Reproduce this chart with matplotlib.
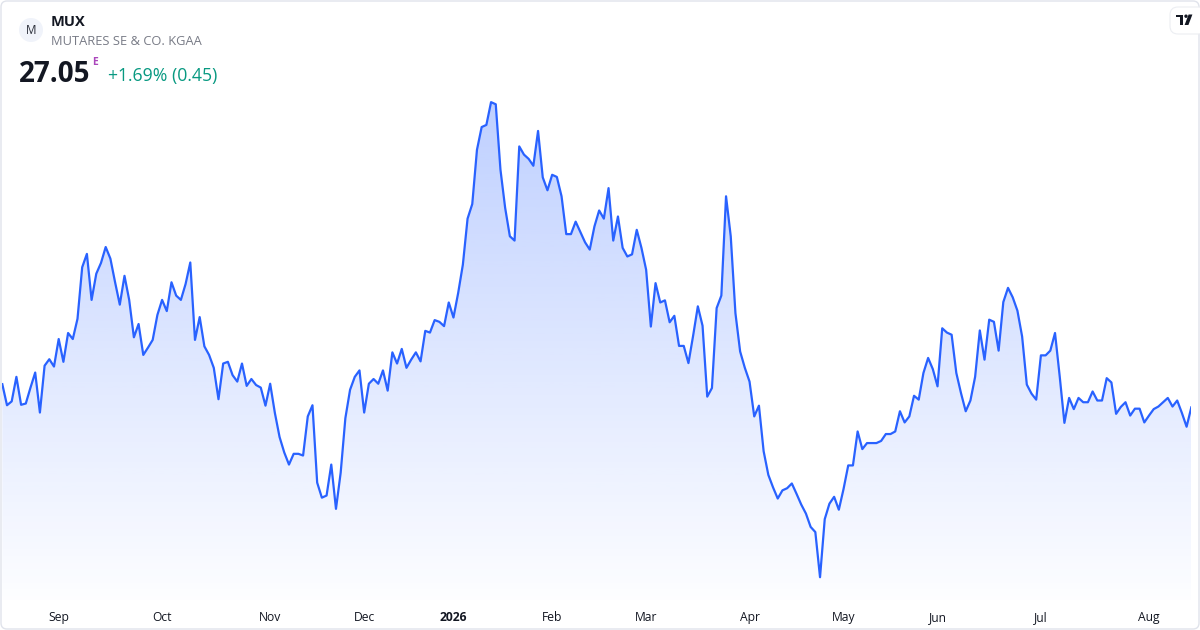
import numpy as np
import pandas as pd
import matplotlib
matplotlib.use("Agg")
import matplotlib.pyplot as plt
import matplotlib.transforms as mtransforms
from matplotlib.patches import FancyBboxPatch, Circle, Polygon, Rectangle
from matplotlib.colors import to_rgb

# daily closes, MUX (XETRA calendar), 14 Aug 2025 .. 14 Aug 2026
prices = [
    27.59, 27.10, 27.19, 27.76, 27.11, 27.14, 27.51, 27.86, 26.93, 28.02,
    28.17, 28.00, 28.64, 28.11, 28.78, 28.64, 29.11, 30.31, 30.62, 29.55,
    30.16, 30.41, 30.78, 30.51, 29.96, 29.44, 30.11, 29.55, 28.68, 28.99,
    28.27, 28.44, 28.62, 29.20, 29.55, 29.29, 29.96, 29.65, 29.55, 29.92,
    30.42, 28.62, 29.15, 28.47, 28.27, 27.97, 27.24, 28.07, 28.11, 27.80,
    27.65, 28.07, 27.55, 27.71, 27.57, 27.51, 27.09, 27.60, 26.92, 26.36,
    26.00, 25.72, 25.97, 25.97, 25.93, 26.84, 27.10, 25.30, 24.95, 25.00,
    25.72, 24.69, 25.53, 26.80, 27.46, 27.76, 27.91, 26.93, 27.60, 27.71,
    27.60, 27.91, 27.44, 28.33, 28.07, 28.41, 27.97, 28.16, 28.33, 28.12,
    28.83, 28.79, 29.08, 29.04, 28.94, 29.49, 29.14, 29.71, 30.37, 31.44,
    31.78, 33.04, 33.57, 33.62, 34.15, 34.10, 32.58, 31.69, 31.03, 30.93,
    33.12, 32.93, 32.83, 32.67, 33.48, 32.40, 32.10, 32.46, 32.41, 31.96,
    31.08, 31.08, 31.37, 31.13, 30.89, 30.72, 31.26, 31.63, 31.44, 32.15,
    30.93, 31.49, 30.76, 30.56, 30.61, 31.18, 30.76, 30.25, 28.93, 29.94,
    29.49, 29.54, 29.03, 29.18, 28.48, 28.48, 28.08, 28.72, 29.40, 28.95,
    27.30, 27.50, 29.36, 29.65, 31.96, 31.03, 29.24, 28.35, 27.97, 27.65,
    26.84, 27.09, 26.03, 25.48, 25.19, 24.93, 25.12, 25.17, 25.28, 25.04,
    24.79, 24.58, 24.27, 24.15, 23.10, 24.45, 24.81, 24.97, 24.67, 25.15,
    25.70, 25.70, 26.49, 26.08, 26.22, 26.22, 26.22, 26.27, 26.43, 26.43,
    26.49, 26.96, 26.70, 26.84, 27.32, 27.23, 27.85, 28.20, 27.94, 27.54,
    28.89, 28.79, 28.74, 27.85, 27.38, 26.96, 27.21, 27.76, 28.84, 28.16,
    29.09, 29.04, 28.37, 29.50, 29.83, 29.61, 29.30, 28.70, 27.58, 27.37,
    27.23, 28.26, 28.26, 28.37, 28.78, 27.77, 26.69, 27.27, 27.01, 27.27,
    27.17, 27.17, 27.42, 27.21, 27.21, 27.73, 27.63, 26.90, 27.06, 27.17,
    26.86, 27.02, 27.02, 26.70, 26.86, 27.01, 27.07, 27.17, 27.27, 27.07,
    27.21, 26.92, 26.60, 27.05,
]
holidays = ["2025-12-24", "2025-12-25", "2025-12-26", "2025-12-31",
            "2026-01-01", "2026-04-03", "2026-04-06", "2026-05-01"]
dates = pd.bdate_range("2025-08-14", "2026-08-31", freq="C", holidays=holidays)[:len(prices)]

ticker = "MUX"
company = "MUTARES SE & CO. KGAA"
last_txt = "27.05"
change_txt = "+1.69% (0.45)"

W, H = 1200, 630
BLUE = "#2962ff"
plt.rcParams["font.family"] = ["Open Sans", "DejaVu Sans"]

fig = plt.figure(figsize=(W / 100, H / 100), dpi=100)
fig.patch.set_facecolor("white")
pix = mtransforms.Affine2D().scale(1, -1).translate(0, H)  # pixel coords, origin top-left

# plot area
x = np.arange(len(prices))
ax = fig.add_axes([2.3 / W, 30 / H, 1189 / W, 540 / H])
ylo, yhi = 22.57, 35.13
ax.set_xlim(0, len(prices) - 1)
ax.set_ylim(ylo, yhi)

poly = ax.fill_between(x, prices, ylo, color="none", lw=0)
grad = np.zeros((256, 1, 4))
grad[..., :3] = to_rgb(BLUE)
grad[..., 3] = np.linspace(0.30, 0.01, 256)[:, None]
im = ax.imshow(grad, extent=[0, len(prices) - 1, ylo, max(prices)],
               aspect="auto", origin="upper", zorder=1)
im.set_clip_path(poly.get_paths()[0], transform=ax.transData)
ax.plot(x, prices, color=BLUE, lw=1.6, zorder=3, solid_joinstyle="round")

for s in ax.spines.values():
    s.set_visible(False)
ax.set_yticks([])

# month ticks at first trading day of each month
d = pd.Series(dates)
first = d.groupby([d.dt.year, d.dt.month]).head(1)
first = first[first.index > 0]
labels = [str(t.year) if t.month == 1 else t.strftime("%b") for t in first]
ax.set_xticks(first.index.to_numpy())
ax.set_xticklabels(labels)
ax.tick_params(axis="x", length=0, pad=8, labelsize=8.7, labelcolor="#131722")
for t in ax.get_xticklabels():
    if t.get_text().isdigit():
        t.set_fontweight("bold")

# card border
fig.add_artist(FancyBboxPatch((1, 1), W - 2, H - 2, boxstyle="round,pad=0,rounding_size=6",
                              transform=pix, fc="none", ec="#e0e3eb", lw=1.0))

# header
fig.add_artist(Circle((31, 30), 12, transform=pix, fc="#f0f3fa", ec="none"))
fig.text(31, 30.5, "M", transform=pix, ha="center", va="center", fontsize=8.5, color="#2a2e39")
fig.text(51, 26.5, ticker, transform=pix, fontsize=10.5, fontweight="bold", color="#131722")
fig.text(51, 45.2, company, transform=pix, fontsize=9.3, color="#787b86")
fig.text(18.5, 81.5, last_txt, transform=pix, fontsize=20, fontweight="bold", color="#131722")
fig.text(92.5, 65, "E", transform=pix, fontsize=7.5, fontweight="bold", color="#ab47bc")
fig.text(108, 80.5, change_txt, transform=pix, fontsize=12.7, color="#089981")

# TradingView badge top right
fig.add_artist(FancyBboxPatch((1170, 7), 36, 27, boxstyle="round,pad=0,rounding_size=8",
                              transform=pix, fc="white", ec="#eceef2", lw=0.8))
fig.add_artist(Rectangle((1175.5, 14.5), 7.5, 2.6, transform=pix, fc="#131722", ec="none"))
fig.add_artist(Rectangle((1179.5, 14.5), 3.0, 10.5, transform=pix, fc="#131722", ec="none"))
fig.add_artist(Circle((1186.0, 16.2), 1.7, transform=pix, fc="#131722", ec="none"))
fig.add_artist(Polygon([(1188.6, 14.5), (1192.4, 14.5), (1188.4, 25.0), (1184.6, 25.0)],
                       transform=pix, fc="#131722", ec="none"))

fig.savefig("out.png", dpi=100, facecolor="white")
